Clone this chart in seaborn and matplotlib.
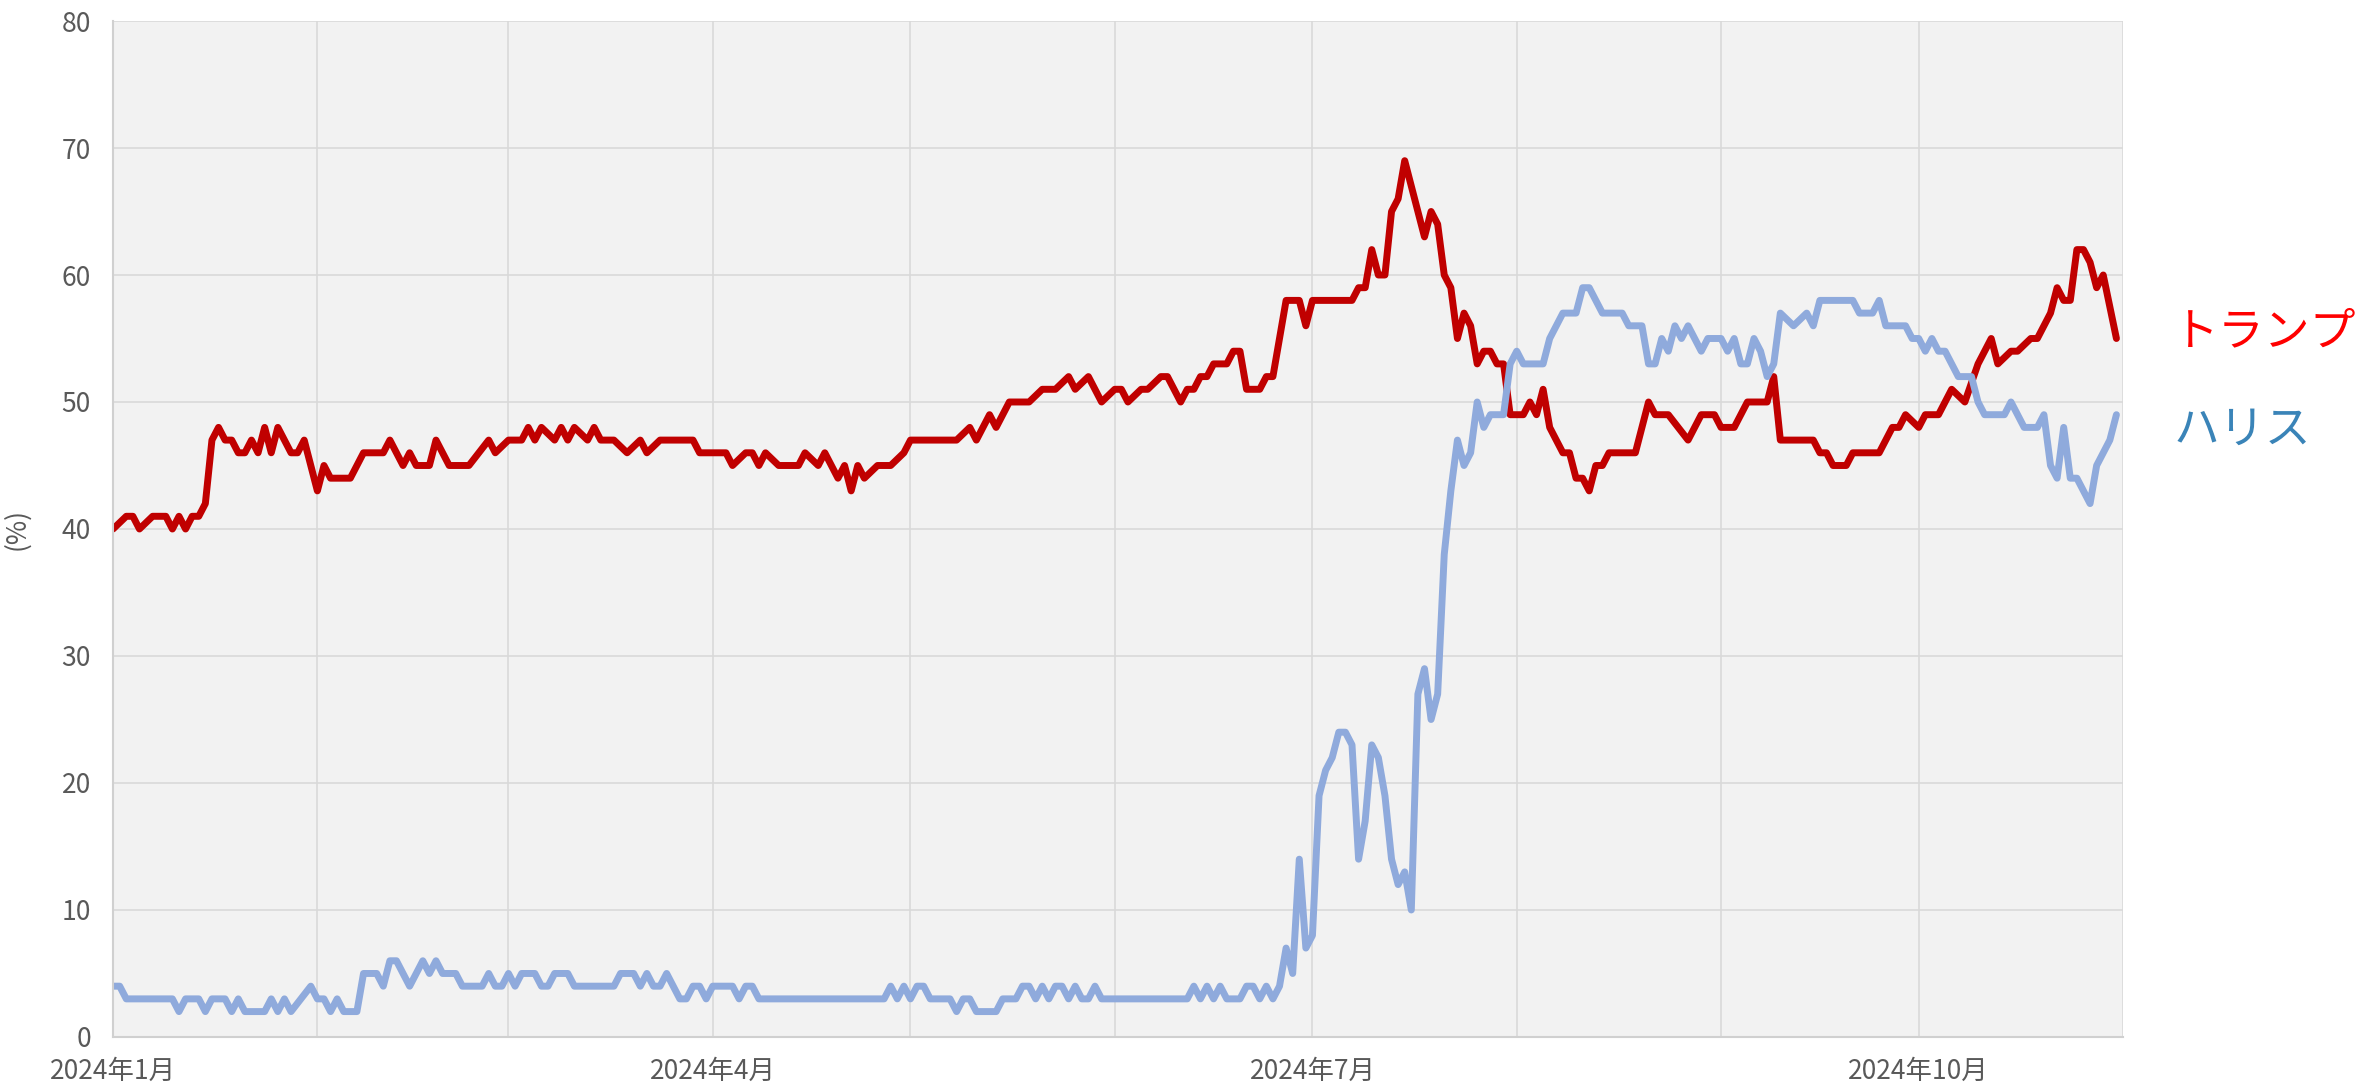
import pandas as pd
import seaborn as sns
import matplotlib.pyplot as plt
import matplotlib.dates as mdates
from matplotlib.transforms import blended_transform_factory

# day offsets from 2024-01-01 and support (%)
trump_day = [0, 2, 3, 4, 6, 8, 9, 10, 11, 12, 13, 14, 15, 16, 17, 18, 19, 20, 21, 22,
             23, 24, 25, 27, 28, 29, 31, 32, 33, 36, 38, 41, 42, 44, 45, 46, 48, 49, 51, 54,
             57, 58, 60, 62, 63, 64, 65, 67, 68, 69, 70, 72, 73, 74, 76, 78, 80, 81, 83, 88,
             89, 93, 94, 96, 97, 98, 99, 101, 104, 105, 107, 108, 110, 111, 112, 113, 114, 116, 118, 120,
             121, 128, 130, 131, 133, 134, 136, 139, 141, 143, 145, 146, 148, 150, 152, 153, 154, 156, 157, 159,
             160, 162, 163, 164, 165, 166, 167, 169, 170, 171, 172, 174, 175, 176, 178, 180, 181, 182, 188, 189,
             190, 191, 192, 193, 194, 195, 196, 197, 198, 199, 200, 201, 202, 203, 204, 205, 206, 207, 208, 209,
             210, 211, 212, 214, 215, 216, 217, 218, 219, 220, 221, 222, 223, 224, 225, 226, 227, 231, 233, 234,
             236, 239, 241, 243, 244, 246, 248, 251, 252, 253, 258, 259, 260, 261, 263, 264, 268, 270, 271, 272,
             274, 275, 277, 279, 281, 283, 285, 286, 288, 289, 291, 292, 294, 295, 296, 297, 298, 299, 300, 301,
             302, 304]
trump_pct = [40, 41, 41, 40, 41, 41, 40, 41, 40, 41, 41, 42, 47, 48, 47, 47, 46, 46, 47, 46,
             48, 46, 48, 46, 46, 47, 43, 45, 44, 44, 46, 46, 47, 45, 46, 45, 45, 47, 45, 45,
             47, 46, 47, 47, 48, 47, 48, 47, 48, 47, 48, 47, 48, 47, 47, 46, 47, 46, 47, 47,
             46, 46, 45, 46, 46, 45, 46, 45, 45, 46, 45, 46, 44, 45, 43, 45, 44, 45, 45, 46,
             47, 47, 48, 47, 49, 48, 50, 50, 51, 51, 52, 51, 52, 50, 51, 51, 50, 51, 51, 52,
             52, 50, 51, 51, 52, 52, 53, 53, 54, 54, 51, 51, 52, 52, 58, 58, 56, 58, 58, 59,
             59, 62, 60, 60, 65, 66, 69, 67, 65, 63, 65, 64, 60, 59, 55, 57, 56, 53, 54, 54,
             53, 53, 49, 49, 50, 49, 51, 48, 47, 46, 46, 44, 44, 43, 45, 45, 46, 46, 50, 49,
             49, 47, 49, 49, 48, 48, 50, 50, 52, 47, 47, 46, 46, 45, 45, 46, 46, 48, 48, 49,
             48, 49, 49, 51, 50, 53, 55, 53, 54, 54, 55, 55, 57, 59, 58, 58, 62, 62, 61, 59,
             60, 55]

harris_day = [0, 1, 2, 9, 10, 11, 13, 14, 15, 17, 18, 19, 20, 23, 24, 25, 26, 27, 30, 31,
              32, 33, 34, 35, 37, 38, 40, 41, 42, 43, 45, 47, 48, 49, 50, 52, 53, 56, 57, 58,
              59, 60, 61, 62, 64, 65, 66, 67, 69, 70, 76, 77, 79, 80, 81, 82, 83, 84, 86, 87,
              88, 89, 90, 91, 94, 95, 96, 97, 98, 117, 118, 119, 120, 121, 122, 123, 124, 127, 128, 129,
              130, 131, 134, 135, 137, 138, 139, 140, 141, 142, 143, 144, 145, 146, 147, 148, 149, 150, 163, 164,
              165, 166, 167, 168, 169, 171, 172, 173, 174, 175, 176, 177, 178, 179, 180, 181, 182, 183, 184, 185,
              186, 187, 188, 189, 190, 191, 192, 193, 194, 195, 196, 197, 198, 199, 200, 201, 202, 203, 204, 205,
              206, 207, 208, 209, 211, 212, 213, 214, 217, 218, 220, 222, 223, 224, 226, 229, 230, 232, 233, 234,
              235, 236, 237, 238, 239, 241, 242, 244, 245, 246, 247, 248, 249, 250, 251, 252, 253, 255, 257, 258,
              259, 264, 265, 267, 268, 269, 272, 273, 274, 275, 276, 277, 278, 280, 282, 283, 284, 287, 288, 290,
              292, 293, 294, 295, 296, 297, 298, 300, 301, 303, 304]
harris_pct = [4, 4, 3, 3, 2, 3, 3, 2, 3, 3, 2, 3, 2, 2, 3, 2, 3, 2, 4, 3,
              3, 2, 3, 2, 2, 5, 5, 4, 6, 6, 4, 6, 5, 6, 5, 5, 4, 4, 5, 4,
              4, 5, 4, 5, 5, 4, 4, 5, 5, 4, 4, 5, 5, 4, 5, 4, 4, 5, 3, 3,
              4, 4, 3, 4, 4, 3, 4, 4, 3, 3, 4, 3, 4, 3, 4, 4, 3, 3, 2, 3,
              3, 2, 2, 3, 3, 4, 4, 3, 4, 3, 4, 4, 3, 4, 3, 3, 4, 3, 3, 4,
              3, 4, 3, 4, 3, 3, 4, 4, 3, 4, 3, 4, 7, 5, 14, 7, 8, 19, 21, 22,
              24, 24, 23, 14, 17, 23, 22, 19, 14, 12, 13, 10, 27, 29, 25, 27, 38, 43, 47, 45,
              46, 50, 48, 49, 49, 53, 54, 53, 53, 55, 57, 57, 59, 59, 57, 57, 56, 56, 53, 53,
              55, 54, 56, 55, 56, 54, 55, 55, 54, 55, 53, 53, 55, 54, 52, 53, 57, 56, 57, 56,
              58, 58, 57, 57, 58, 56, 56, 55, 55, 54, 55, 54, 54, 52, 52, 50, 49, 49, 50, 48,
              48, 49, 45, 44, 48, 44, 44, 42, 45, 47, 49]

candidates = ["トランプ", "ハリス"]
line_colors = ["#c00000", "#8faadc"]
label_colors = ["#ff0000", "#3a84b8"]
tick_months = ["2024-01-01", "2024-04-01", "2024-07-01", "2024-10-01"]
tick_labels = ["2024年1月", "2024年4月", "2024年7月", "2024年10月"]

start = pd.Timestamp("2024-01-01")
df = pd.concat([
    pd.DataFrame({"date": start + pd.to_timedelta(trump_day, unit="D"),
                  "pct": trump_pct, "name": candidates[0]}),
    pd.DataFrame({"date": start + pd.to_timedelta(harris_day, unit="D"),
                  "pct": harris_pct, "name": candidates[1]}),
])

sns.set_style("white")
plt.rcParams["font.family"] = ["Noto Sans CJK JP", "DejaVu Sans"]
grey = "#595959"

fig = plt.figure(figsize=(23.61, 10.83), dpi=100)
ax = fig.add_axes([0.0479, 0.0425, 0.8513, 0.9381])
ax.set_facecolor("#f2f2f2")

sns.lineplot(data=df, x="date", y="pct", hue="name", hue_order=candidates,
             palette=line_colors, estimator=None, sort=False, linewidth=5,
             legend=False, ax=ax)
for ln in ax.get_lines():
    ln.set_solid_joinstyle("round")
    ln.set_solid_capstyle("round")

ax.set_xlim(pd.Timestamp("2024-01-01"), pd.Timestamp("2024-11-01"))
ax.set_ylim(0, 80)
ax.set_yticks(range(0, 81, 10))
ax.set_xticks(pd.to_datetime(tick_months))
ax.set_xticklabels(tick_labels)
ax.xaxis.set_minor_locator(mdates.MonthLocator())

ax.grid(True, which="both", axis="x", color="#d9d9d9", linewidth=1.2)
ax.grid(True, which="major", axis="y", color="#d9d9d9", linewidth=1.2)
ax.set_axisbelow(True)

for side in ["top", "right"]:
    ax.spines[side].set_visible(False)
for side in ["left", "bottom"]:
    ax.spines[side].set_color("#d0d0d0")
    ax.spines[side].set_linewidth(1.5)

ax.tick_params(axis="x", which="major", length=7, width=1.2, color="#d0d0d0",
               pad=8, labelsize=19, labelcolor=grey)
ax.tick_params(axis="x", which="minor", length=0)
ax.tick_params(axis="y", length=0, pad=16, labelsize=19, labelcolor=grey)

ax.set_xlabel("")
ax.set_ylabel("(%)", fontsize=19, color=grey)
ax.yaxis.set_label_coords(-0.041, 0.5)

trans = blended_transform_factory(ax.transAxes, ax.transData)
ax.text(1.025, 55.5, candidates[0], transform=trans, color=label_colors[0],
        fontsize=33, va="center", ha="left")
ax.text(1.025, 47.8, candidates[1], transform=trans, color=label_colors[1],
        fontsize=33, va="center", ha="left")

fig.savefig("out.png", dpi=100)
plt.close(fig)
